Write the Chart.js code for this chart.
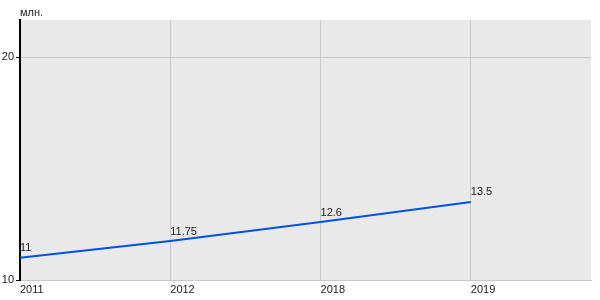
<!DOCTYPE html>
<html>
<head>
<meta charset="utf-8">
<script src="https://cdn.jsdelivr.net/npm/chart.js@4"></script>
<style>
  html, body { margin: 0; padding: 0; background: #fff; }
  #wrap { width: 600px; height: 300px; }
</style>
</head>
<body>
<div id="wrap"><canvas id="chart" width="600" height="300"></canvas></div>
<script>
const years = ['2011', '2012', '2018', '2019'];
const values = [11, 11.75, 12.6, 13.5];
const yTicks = [10, 20];
const unitLabel = 'млн.';

const points = values.map((v, i) => ({ x: i, y: v }));

// plot background + unit label
const backdrop = {
    id: 'backdrop',
    beforeDraw(chart) {
        const { ctx, chartArea: a } = chart;
        ctx.save();
        ctx.fillStyle = '#e9e9e9';
        ctx.fillRect(a.left, a.top, a.right - a.left, a.bottom - a.top);
        ctx.fillStyle = '#222';
        ctx.font = '11px "Liberation Sans", Arial, sans-serif';
        ctx.textBaseline = 'middle';
        ctx.textAlign = 'left';
        ctx.fillText(unitLabel, a.left, 13);
        ctx.restore();
    }
};

// value labels above each point
const valueLabels = {
    id: 'valueLabels',
    afterDatasetsDraw(chart) {
        const { ctx } = chart;
        const meta = chart.getDatasetMeta(0);
        ctx.save();
        ctx.fillStyle = '#222';
        ctx.font = '11px "Liberation Sans", Arial, sans-serif';
        ctx.textAlign = 'left';
        ctx.textBaseline = 'bottom';
        meta.data.forEach((pt, i) => {
            ctx.fillText(String(values[i]), pt.x, pt.y - 4);
        });
        ctx.restore();
    }
};

new Chart(document.getElementById('chart').getContext('2d'), {
    type: 'line',
    data: {
        datasets: [{
            data: points,
            borderColor: '#0050e6',
            borderWidth: 2,
            pointRadius: 0,
            tension: 0,
            clip: false
        }]
    },
    options: {
        responsive: false,
        animation: false,
        events: [],
        layout: { padding: { top: 20, right: 9, left: 0, bottom: 0 } },
        plugins: { legend: { display: false }, tooltip: { enabled: false } },
        scales: {
            x: {
                type: 'linear',
                min: 0,
                max: 3.8,
                afterBuildTicks: s => { s.ticks = years.map((_, i) => ({ value: i })); },
                afterFit: s => { s.height = 20; },
                grid: { color: '#c8c8c8', lineWidth: 1, drawTicks: false },
                border: { color: '#c8c8c8' },
                ticks: {
                    align: 'start',
                    padding: 3,
                    color: '#222',
                    font: { family: '"Liberation Sans", Arial, sans-serif', size: 11 },
                    callback: v => years[v]
                }
            },
            y: {
                min: 10,
                max: 21.66,
                afterBuildTicks: s => { s.ticks = yTicks.map(v => ({ value: v })); },
                afterFit: s => { s.width = 20; },
                grid: { color: '#c8c8c8', tickColor: '#000', tickLength: 4 },
                border: { color: '#000', width: 2 },
                ticks: {
                    padding: 2,
                    color: '#222',
                    font: { family: '"Liberation Sans", Arial, sans-serif', size: 11 }
                }
            }
        }
    },
    plugins: [backdrop, valueLabels]
});
</script>
</body>
</html>
